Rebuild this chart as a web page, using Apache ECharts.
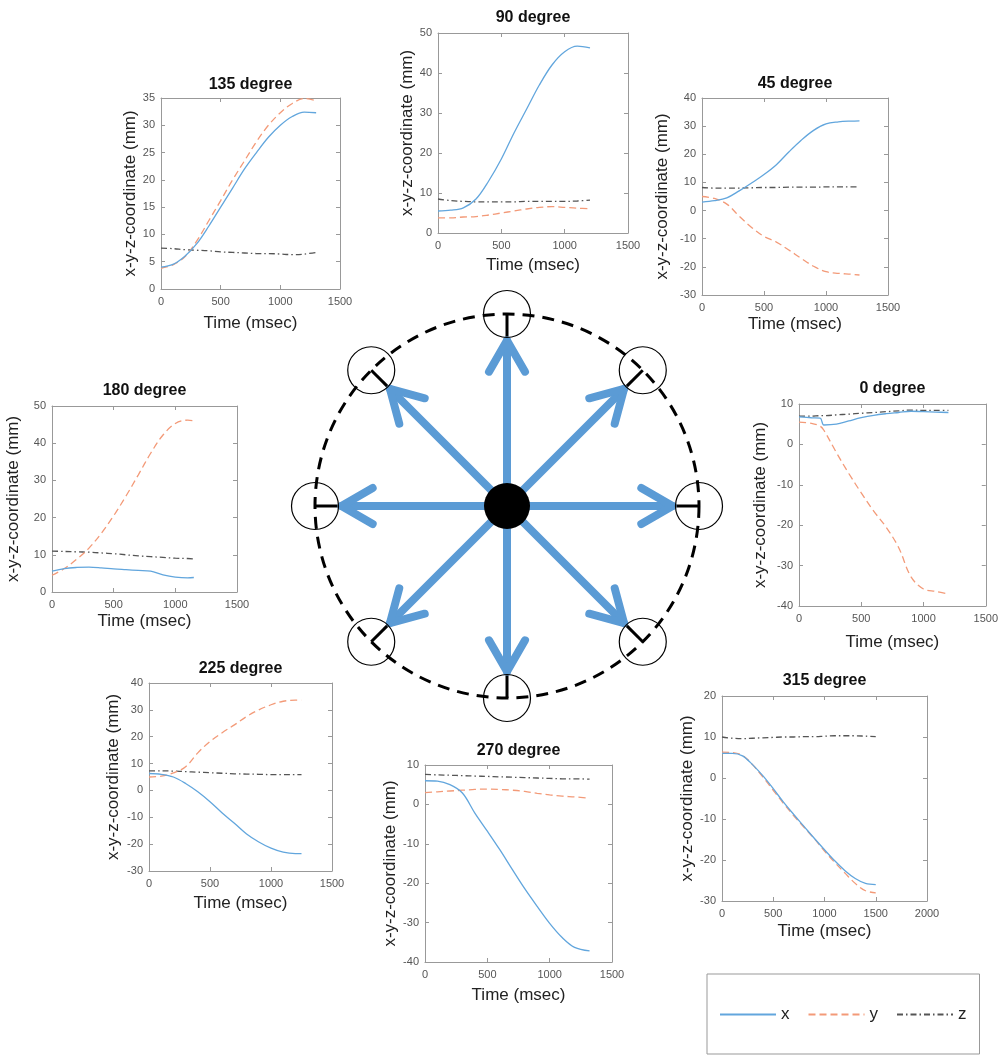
<!DOCTYPE html>
<html><head><meta charset="utf-8">
<script src="https://cdn.jsdelivr.net/npm/echarts@6/dist/echarts.min.js"></script>
<style>html,body{margin:0;padding:0;background:#fff}#c{width:1001px;height:1055px}</style>
</head><body><div id="c"></div><script>
// ---------- data ----------
const directions = [0, 45, 90, 135, 180, 225, 270, 315];
const seriesNames = ['x', 'y', 'z'];

const time_135 = [0,100,200,300,400,500,600,700,800,900,1000,1100,1200,1300];
const x_135 = [4.0,4.5,6.0,8.3,11.5,15.0,18.5,22.0,25.0,27.8,30.0,31.6,32.4,32.3];
const y_135 = [3.8,4.4,5.9,8.8,12.5,16.2,20.0,23.5,27.0,30.0,32.3,34.0,34.9,34.5];
const z_135 = [7.5,7.4,7.2,7.1,7.0,6.8,6.7,6.6,6.5,6.5,6.4,6.3,6.4,6.7];

const time_90 = [0,100,200,300,400,500,600,700,800,900,1000,1100,1200];
const x_90 = [5.5,5.7,6.3,8.5,13.0,18.5,25.0,31.0,37.0,42.0,45.3,46.7,46.3];
const y_90 = [3.8,3.8,4.0,4.1,4.5,5.0,5.5,6.0,6.4,6.6,6.4,6.2,6.1];
const z_90 = [8.5,8.1,7.9,7.8,7.8,7.8,7.8,7.9,7.9,7.9,7.9,8.0,8.2];

const time_45 = [0,100,200,300,400,500,600,700,800,900,1000,1100,1200,1270];
const x_45 = [3.0,3.5,4.5,7.0,9.8,12.8,16.3,20.8,25.0,28.5,30.8,31.5,31.8,31.9];
const y_45 = [5.0,4.3,2.3,-2.0,-6.0,-9.2,-11.2,-14.0,-17.0,-19.8,-21.7,-22.3,-22.6,-22.9];
const z_45 = [8.2,8.0,8.0,8.0,8.1,8.2,8.2,8.3,8.3,8.3,8.4,8.4,8.4,8.4];

const time_180 = [0,100,200,300,400,500,600,700,800,900,1000,1100,1150];
const x_180 = [5.6,6.3,6.6,6.7,6.5,6.2,6.0,5.8,5.6,4.6,4.0,3.8,3.9];
const y_180 = [4.5,6.3,8.8,11.8,15.8,20.5,25.8,31.5,37.3,42.2,45.3,46.2,46.0];
const z_180 = [11.0,10.9,10.8,10.7,10.5,10.3,10.0,9.7,9.5,9.3,9.1,9.0,8.9];

const time_0 = [0,100,170,200,300,400,500,600,700,800,900,1000,1100,1200];
const x_0 = [6.8,6.6,6.5,4.8,5.0,5.8,6.6,7.2,7.6,7.9,8.2,8.1,8.0,7.9];
const y_0 = [5.5,5.2,4.5,3.5,-2.0,-7.2,-12.0,-16.5,-20.5,-25.5,-32.8,-35.8,-36.4,-37.0];
const z_0 = [7.0,7.0,7.1,7.1,7.3,7.5,7.7,7.9,8.1,8.3,8.5,8.4,8.4,8.4];

const time_225 = [0,100,200,300,400,500,600,700,800,900,1000,1100,1200,1250];
const x_225 = [6.3,6.0,5.0,2.6,-0.5,-4.2,-8.4,-12.2,-16.2,-19.2,-21.5,-23.0,-23.5,-23.5];
const y_225 = [5.0,5.3,6.5,8.8,14.0,18.2,21.5,24.4,27.5,30.0,31.9,33.2,33.6,33.6];
const z_225 = [7.3,7.3,7.2,7.0,6.8,6.6,6.4,6.2,6.1,6.0,5.9,5.9,5.9,5.9];

const time_270 = [0,100,200,300,400,500,600,700,800,900,1000,1100,1200,1320];
const x_270 = [6.0,5.9,5.0,2.9,-2.2,-6.8,-11.5,-16.5,-21.4,-25.9,-30.2,-33.8,-36.3,-37.2];
const y_270 = [3.0,3.2,3.4,3.6,3.8,3.9,3.8,3.6,3.3,2.8,2.4,2.1,1.9,1.6];
const z_270 = [7.6,7.5,7.4,7.3,7.2,7.1,7.0,6.9,6.8,6.7,6.6,6.5,6.5,6.4];

const time_315 = [0,100,200,300,400,500,600,700,800,900,1000,1100,1200,1300,1400,1500];
const x_315 = [6.0,6.0,5.4,3.2,0.5,-2.6,-5.9,-8.9,-11.8,-14.7,-17.5,-20.2,-22.6,-24.5,-25.7,-26.0];
const y_315 = [6.3,6.2,5.5,3.2,0.2,-3.0,-6.2,-9.2,-12.0,-14.8,-17.8,-20.6,-23.2,-25.7,-27.5,-28.0];
const z_315 = [10.0,9.7,9.6,9.7,9.8,9.9,10.0,10.0,10.1,10.1,10.2,10.3,10.3,10.3,10.2,10.1];

const plots = [
  {title:'135 degree', t:time_135, x:x_135, y:y_135, z:z_135, ymin:0,   ymax:35, yint:5,  xmax:1500},
  {title:'90 degree',  t:time_90,  x:x_90,  y:y_90,  z:z_90,  ymin:0,   ymax:50, yint:10, xmax:1500},
  {title:'45 degree',  t:time_45,  x:x_45,  y:y_45,  z:z_45,  ymin:-30, ymax:40, yint:10, xmax:1500},
  {title:'180 degree', t:time_180, x:x_180, y:y_180, z:z_180, ymin:0,   ymax:50, yint:10, xmax:1500},
  {title:'0 degree',   t:time_0,   x:x_0,   y:y_0,   z:z_0,   ymin:-40, ymax:10, yint:10, xmax:1500},
  {title:'225 degree', t:time_225, x:x_225, y:y_225, z:z_225, ymin:-30, ymax:40, yint:10, xmax:1500},
  {title:'270 degree', t:time_270, x:x_270, y:y_270, z:z_270, ymin:-40, ymax:10, yint:10, xmax:1500},
  {title:'315 degree', t:time_315, x:x_315, y:y_315, z:z_315, ymin:-30, ymax:20, yint:10, xmax:2000}
];

// ---------- layout (pixels) ----------
const layout = [
  {l:161, t:98,  w:179, h:191, ty:84,  yn:28, xn:36},
  {l:438, t:33,  w:190, h:200, ty:17,  yn:31, xn:34},
  {l:702, t:98,  w:186, h:197, ty:83,  yn:40, xn:31},
  {l:52,  t:406, w:185, h:186, ty:390, yn:39, xn:31},
  {l:799, t:404, w:189, h:202, ty:388, yn:39, xn:38},
  {l:149, t:683, w:183, h:188, ty:668, yn:36, xn:34},
  {l:425, t:765, w:187, h:197, ty:750, yn:35, xn:35},
  {l:722, t:696, w:205, h:205, ty:680, yn:34, xn:32}
];

const FONT = '"Liberation Sans", Arial, Helvetica, sans-serif';
const boxColor = '#999';
const lineColors = ['#62a6dd', '#f39a78', '#555555'];
const lineDashes = ['solid', [7, 4], [6, 3, 1.5, 3]];
const plainNum = v => String(v);

const grids = [], xAxes = [], yAxes = [], series = [];

plots.forEach((p, i) => {
  const L = layout[i];
  grids.push({left: L.l, top: L.t, width: L.w, height: L.h, containLabel: false});
  const tick = {show: true, inside: true, length: 4, lineStyle: {color: boxColor, width: 1}};
  const line = {show: true, onZero: false, lineStyle: {color: boxColor, width: 1}};
  xAxes.push({
    type: 'value', gridIndex: i, position: 'bottom', min: 0, max: p.xmax, interval: 500,
    name: 'Time (msec)', nameLocation: 'middle', nameGap: L.xn - 10,
    nameTextStyle: {fontSize: 17, color: '#222', fontFamily: FONT},
    axisLine: line, axisTick: tick, splitLine: {show: false},
    axisLabel: {fontSize: 11, color: '#555', margin: 7, fontFamily: FONT, formatter: plainNum}
  });
  xAxes.push({
    type: 'value', gridIndex: i, position: 'top', min: 0, max: p.xmax, interval: 500,
    name: p.title, nameLocation: 'middle', nameGap: (L.t - L.ty) - 9,
    nameTextStyle: {fontSize: 16, fontWeight: 'bold', color: '#111', fontFamily: FONT},
    axisLine: line, axisTick: tick, splitLine: {show: false}, axisLabel: {show: false}
  });
  yAxes.push({
    type: 'value', gridIndex: i, position: 'left', min: p.ymin, max: p.ymax, interval: p.yint,
    name: 'x-y-z-coordinate (mm)', nameLocation: 'middle', nameGap: L.yn - 9,
    nameTextStyle: {fontSize: 17, color: '#222', fontFamily: FONT},
    axisLine: line, axisTick: tick, splitLine: {show: false},
    axisLabel: {fontSize: 11, color: '#555', margin: 6, fontFamily: FONT, formatter: plainNum}
  });
  yAxes.push({
    type: 'value', gridIndex: i, position: 'right', min: p.ymin, max: p.ymax, interval: p.yint,
    axisLine: line, axisTick: tick, splitLine: {show: false}, axisLabel: {show: false}
  });
  [p.x, p.y, p.z].forEach((vals, k) => {
    series.push({
      type: 'line', name: seriesNames[k], xAxisIndex: 2 * i, yAxisIndex: 2 * i,
      data: p.t.map((tt, j) => [tt, vals[j]]),
      symbol: 'none', smooth: 0.35, silent: true,
      lineStyle: {color: lineColors[k], width: 1.3, type: lineDashes[k]},
      itemStyle: {color: lineColors[k]},
      z: 3 + (2 - k)
    });
  });
});

// ---------- central direction diagram ----------
const dg = plots.length;
grids.push({left: 287, top: 286, width: 440, height: 440});
xAxes.push({type: 'value', gridIndex: dg, min: -220, max: 220, show: false});
yAxes.push({type: 'value', gridIndex: dg, min: -220, max: 220, show: false});
const diagXi = xAxes.length - 1, diagYi = yAxes.length - 1;

const bigR = 192, smallR = 23.5, dotR = 23;

series.push({
  type: 'custom', xAxisIndex: diagXi, yAxisIndex: diagYi, silent: true, z: 5,
  data: [[0, 0]],
  renderItem: function (params, api) {
    const c = api.coord([0, 0]);
    const u = api.size([1, 0])[0];
    return {type: 'circle', shape: {cx: c[0], cy: c[1], r: bigR * u},
      style: {fill: 'none', stroke: '#000', lineWidth: 3, lineDash: [12, 8]}};
  }
});

series.push({
  type: 'custom', xAxisIndex: diagXi, yAxisIndex: diagYi, silent: true, z: 6,
  data: directions.map(d => [0, 0, d]),
  encode: {x: 0, y: 1},
  renderItem: function (params, api) {
    const a = api.value(2) * Math.PI / 180;
    const c = api.coord([0, 0]);
    const u = api.size([1, 0])[0];
    const ux = Math.cos(a), uy = -Math.sin(a);
    const Rs = bigR * u, rs = smallR * u, tip = Rs - rs - 3;
    const sx = c[0] + ux * Rs, sy = c[1] + uy * Rs;
    const tx = c[0] + ux * tip, ty = c[1] + uy * tip;
    const armLen = 36 * u, ang = 30 * Math.PI / 180;
    const bx = -ux, by = -uy;
    const rot = (x, y, t) => [x * Math.cos(t) - y * Math.sin(t), x * Math.sin(t) + y * Math.cos(t)];
    const a1 = rot(bx, by, ang), a2 = rot(bx, by, -ang);
    const blue = '#5b9bd5';
    return {type: 'group', children: [
      {type: 'line', shape: {x1: c[0], y1: c[1], x2: tx, y2: ty},
        style: {stroke: blue, lineWidth: 8, lineCap: 'round'}},
      {type: 'polyline', shape: {points: [[tx + a1[0] * armLen, ty + a1[1] * armLen], [tx, ty], [tx + a2[0] * armLen, ty + a2[1] * armLen]]},
        style: {stroke: blue, lineWidth: 8, lineCap: 'round', lineJoin: 'round', fill: 'none'}},
      {type: 'circle', shape: {cx: sx, cy: sy, r: rs},
        style: {fill: 'none', stroke: '#000', lineWidth: 1.2}},
      {type: 'line', shape: {x1: sx, y1: sy, x2: sx - ux * (rs - 1), y2: sy - uy * (rs - 1)},
        style: {stroke: '#000', lineWidth: 3}}
    ]};
  }
});

series.push({
  type: 'custom', xAxisIndex: diagXi, yAxisIndex: diagYi, silent: true, z: 7,
  data: [[0, 0]],
  renderItem: function (params, api) {
    const c = api.coord([0, 0]);
    const u = api.size([1, 0])[0];
    return {type: 'circle', shape: {cx: c[0], cy: c[1], r: dotR * u}, style: {fill: '#000'}};
  }
});

const chart = echarts.init(document.getElementById('c'), null, {renderer: 'canvas'});
chart.setOption({
  animation: false,
  backgroundColor: '#fff',
  textStyle: {fontFamily: FONT},
  grid: grids,
  xAxis: xAxes,
  yAxis: yAxes,
  legend: {
    data: seriesNames, left: 707, top: 974, orient: 'horizontal',
    itemWidth: 56, itemHeight: 14, itemGap: 18,
    padding: [32, 13, 31, 12], borderColor: '#999', borderWidth: 1,
    selectedMode: false,
    itemStyle: {opacity: 0, borderWidth: 0},
    textStyle: {fontSize: 17, color: '#222', fontFamily: FONT}
  },
  series: series
});
</script></body></html>
